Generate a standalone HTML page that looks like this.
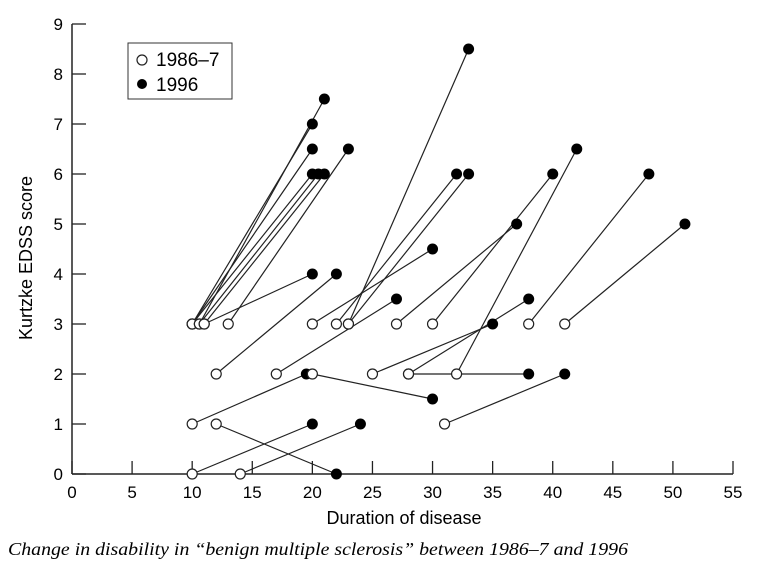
<!DOCTYPE html>
<html><head><meta charset="utf-8"><style>
body{margin:0;background:#fff;width:758px;height:571px;overflow:hidden}
svg{display:block;font-family:"Liberation Sans",sans-serif}
</style></head><body>
<svg id="chart" width="758" height="571" viewBox="0 0 758 571" xmlns="http://www.w3.org/2000/svg">
<g id="axes"></g>
<g id="segs"></g>
<g id="pts"></g>
<g>
<rect x="128" y="43" width="104" height="56" fill="#fff" stroke="#333" stroke-width="1"/>
<circle cx="142" cy="60" r="5" fill="#fff" stroke="#222" stroke-width="1.2"/>
<text x="156" y="66" font-size="19">1986–7</text>
<circle cx="142" cy="84" r="5" fill="#000"/>
<text x="156" y="91" font-size="19">1996</text>
</g>
<text x="404" y="524" font-size="18" text-anchor="middle">Duration of disease</text>
<text transform="translate(32,258) rotate(-90)" font-size="18" text-anchor="middle">Kurtzke EDSS score</text>
<text x="8" y="555" font-size="18" font-style="italic" font-family="Liberation Serif, serif" textLength="620" lengthAdjust="spacingAndGlyphs">Change in disability in “benign multiple sclerosis” between 1986–7 and 1996</text>
</svg>
<script>
const xStart=[10,10,10,10.6,10.6,11,11,13,12,20,22,23,23,17,27,30,38,41,32,28,28,25,31,10,12,14,10,20];
const yStart=[3,3,3,3,3,3,3,3,2,3,3,3,3,2,3,3,3,3,2,2,2,2,1,0,1,0,1,2];
const xEnd=[20,20,20,21,20.5,21,20,23,22,30,32,33,33,27,37,40,48,51,42,38,38,35,41,20,22,24,19.5,30];
const yEnd=[7,6.5,6,7.5,6,6,4,6.5,4,4.5,6,6,8.5,3.5,5,6,6,5,6.5,2,3.5,3,2,1,0,1,2,1.5];
const xTicks=[0,5,10,15,20,25,30,35,40,45,50,55];
const yTicks=[0,1,2,3,4,5,6,7,8,9];
const NS="http://www.w3.org/2000/svg";
const X=v=>72+v*(733-72)/55, Y=v=>474-v*50;
function mk(t,a,p){const e=document.createElementNS(NS,t);for(const k in a)e.setAttribute(k,a[k]);p.appendChild(e);return e;}
const ax=document.getElementById('axes');
let l=mk('line',{x1:72,y1:Y(0),x2:X(55),y2:Y(0),stroke:'#222','stroke-width':1.5},ax);


l=mk('line',{x1:72,y1:Y(0),x2:72,y2:Y(9),stroke:'#222','stroke-width':1.5},ax);


xTicks.forEach(t=>{
 const k=mk('line',{x1:X(t),y1:Y(0),x2:X(t),y2:Y(0)-13,stroke:'#222','stroke-width':1.3},ax);
 
 
 const s=mk('text',{x:X(t),y:Y(0)+24,'font-size':17,'text-anchor':'middle'},ax);s.textContent=t;
 
 
});
yTicks.forEach(t=>{
 const k=mk('line',{x1:72,y1:Y(t),x2:86,y2:Y(t),stroke:'#222','stroke-width':1.3},ax);
 
 
 const s=mk('text',{x:63,y:Y(t)+6,'font-size':17,'text-anchor':'end'},ax);s.textContent=t;
 
 
});
const sg=document.getElementById('segs'),pg=document.getElementById('pts');
xStart.forEach((_,i)=>{
 const ln=mk('line',{x1:X(xStart[i]),y1:Y(yStart[i]),x2:X(xEnd[i]),y2:Y(yEnd[i]),stroke:'#222','stroke-width':1.2},sg);
 
 
});
xStart.forEach((_,i)=>{
 const c=mk('circle',{cx:X(xStart[i]),cy:Y(yStart[i]),r:5,fill:'#fff',stroke:'#222','stroke-width':1.2},pg);
 
 
 const d=mk('circle',{cx:X(xEnd[i]),cy:Y(yEnd[i]),r:5.5,fill:'#000'},pg);
 
 
});
</script>
</body></html>
